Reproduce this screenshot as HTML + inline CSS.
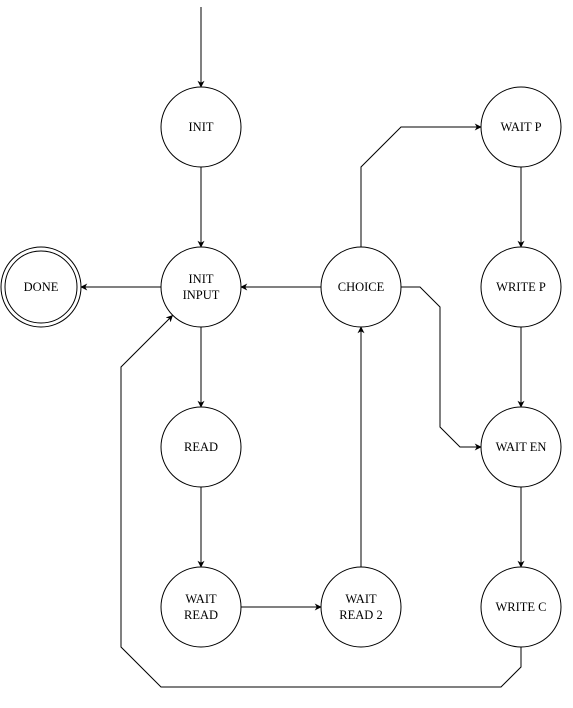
<!DOCTYPE html>
<html><head><style>body{margin:0;background:#fff}svg{display:block}</style></head><body>
<svg width="573" height="708" viewBox="0 0 573 708" xmlns="http://www.w3.org/2000/svg">
<defs>
<marker id="a" viewBox="0 0 10 10" refX="9" refY="5" markerWidth="7" markerHeight="7" orient="auto" markerUnits="userSpaceOnUse">
<path d="M0,0 L10,5 L0,10 L3,5 z" fill="#000"/></marker>
</defs>
<g fill="none" stroke="#000" stroke-width="1" marker-end="url(#a)">
<path d="M201,7 V87"/>
<path d="M201,167 V247"/>
<path d="M161,287 H81"/>
<path d="M201,327 V407"/>
<path d="M201,487 V567"/>
<path d="M241,607 H321"/>
<path d="M361,567 V327"/>
<path d="M321,287 H241"/>
<path d="M361,247 V167 L401,127 H481"/>
<path d="M401,287 H420 L440,307 V427 L460,447 H481"/>
<path d="M521,167 V247"/>
<path d="M521,327 V407"/>
<path d="M521,487 V567"/>
<path d="M521,647 V667 L501,687 H161 L121,647 V367 L172.5,315.5"/>
</g>
<g fill="#fff" stroke="#000" stroke-width="1">
<circle cx="201" cy="127" r="40"/>
<circle cx="201" cy="287" r="40"/>
<circle cx="201" cy="447" r="40"/>
<circle cx="201" cy="607" r="40"/>
<circle cx="361" cy="607" r="40"/>
<circle cx="361" cy="287" r="40"/>
<circle cx="521" cy="127" r="40"/>
<circle cx="521" cy="287" r="40"/>
<circle cx="521" cy="447" r="40"/>
<circle cx="521" cy="607" r="40"/>
<circle cx="41" cy="287" r="40"/>
<circle cx="41" cy="287" r="36"/>
</g>
<g font-family="Liberation Serif, serif" font-size="12.5" text-anchor="middle" fill="#000">
<text x="201" y="131">INIT</text>
<text x="201" y="283">INIT</text>
<text x="201" y="299">INPUT</text>
<text x="201" y="451">READ</text>
<text x="201" y="603">WAIT</text>
<text x="201" y="619">READ</text>
<text x="361" y="603">WAIT</text>
<text x="361" y="619">READ 2</text>
<text x="361" y="291">CHOICE</text>
<text x="521" y="131">WAIT P</text>
<text x="521" y="291">WRITE P</text>
<text x="521" y="451">WAIT EN</text>
<text x="521" y="611">WRITE C</text>
<text x="41" y="291">DONE</text>
</g>
</svg>
</body></html>
